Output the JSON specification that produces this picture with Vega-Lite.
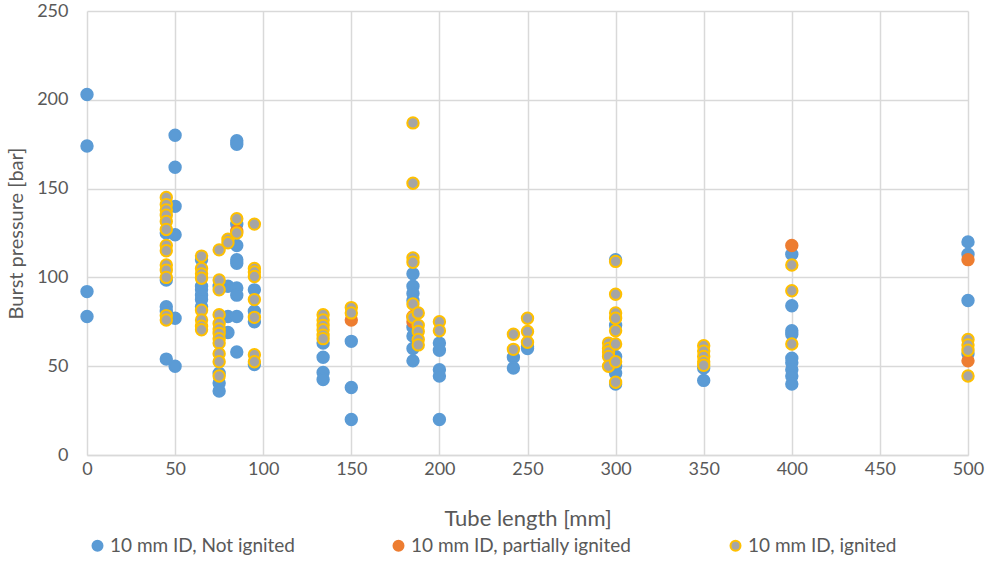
{
  "$schema": "https://vega.github.io/schema/vega-lite/v6.json",
  "width": 881,
  "height": 444,
  "autosize": {"type": "none"},
  "padding": {"left": 87, "top": 11, "right": 17, "bottom": 106},
  "background": "white",
  "config": {
    "font": "Lato",
    "view": {"stroke": null},
    "axis": {"labelFont": "Lato", "titleFont": "Lato", "labelColor": "#595959", "titleColor": "#595959", "gridColor": "#D9D9D9", "domainColor": "#D9D9D9", "gridWidth": 1.5, "domainWidth": 1.5, "ticks": false, "labelFontSize": 18, "titleFontSize": 19, "titleFontWeight": "normal", "labelFlush": false, "labelOverlap": false}
  },
  "data": {"values": [
    {"x": 0, "y": 203, "s": "10 mm ID, Not ignited"},
    {"x": 0, "y": 174, "s": "10 mm ID, Not ignited"},
    {"x": 0, "y": 92, "s": "10 mm ID, Not ignited"},
    {"x": 0, "y": 78, "s": "10 mm ID, Not ignited"},
    {"x": 45, "y": 98.5, "s": "10 mm ID, Not ignited"},
    {"x": 45, "y": 83.5, "s": "10 mm ID, Not ignited"},
    {"x": 45, "y": 81, "s": "10 mm ID, Not ignited"},
    {"x": 45, "y": 54, "s": "10 mm ID, Not ignited"},
    {"x": 45, "y": 125, "s": "10 mm ID, Not ignited"},
    {"x": 50, "y": 180, "s": "10 mm ID, Not ignited"},
    {"x": 50, "y": 162, "s": "10 mm ID, Not ignited"},
    {"x": 50, "y": 140, "s": "10 mm ID, Not ignited"},
    {"x": 50, "y": 124, "s": "10 mm ID, Not ignited"},
    {"x": 50, "y": 77, "s": "10 mm ID, Not ignited"},
    {"x": 50, "y": 50, "s": "10 mm ID, Not ignited"},
    {"x": 65, "y": 110, "s": "10 mm ID, Not ignited"},
    {"x": 65, "y": 95, "s": "10 mm ID, Not ignited"},
    {"x": 65, "y": 93, "s": "10 mm ID, Not ignited"},
    {"x": 65, "y": 90, "s": "10 mm ID, Not ignited"},
    {"x": 65, "y": 87.5, "s": "10 mm ID, Not ignited"},
    {"x": 65, "y": 83.5, "s": "10 mm ID, Not ignited"},
    {"x": 75, "y": 95, "s": "10 mm ID, Not ignited"},
    {"x": 75, "y": 46, "s": "10 mm ID, Not ignited"},
    {"x": 75, "y": 40.5, "s": "10 mm ID, Not ignited"},
    {"x": 75, "y": 36, "s": "10 mm ID, Not ignited"},
    {"x": 80, "y": 95, "s": "10 mm ID, Not ignited"},
    {"x": 80, "y": 78, "s": "10 mm ID, Not ignited"},
    {"x": 80, "y": 69, "s": "10 mm ID, Not ignited"},
    {"x": 85, "y": 177, "s": "10 mm ID, Not ignited"},
    {"x": 85, "y": 175, "s": "10 mm ID, Not ignited"},
    {"x": 85, "y": 130, "s": "10 mm ID, Not ignited"},
    {"x": 85, "y": 118, "s": "10 mm ID, Not ignited"},
    {"x": 85, "y": 110, "s": "10 mm ID, Not ignited"},
    {"x": 85, "y": 108, "s": "10 mm ID, Not ignited"},
    {"x": 85, "y": 94, "s": "10 mm ID, Not ignited"},
    {"x": 85, "y": 90, "s": "10 mm ID, Not ignited"},
    {"x": 85, "y": 78, "s": "10 mm ID, Not ignited"},
    {"x": 85, "y": 58, "s": "10 mm ID, Not ignited"},
    {"x": 95, "y": 93, "s": "10 mm ID, Not ignited"},
    {"x": 95, "y": 81, "s": "10 mm ID, Not ignited"},
    {"x": 95, "y": 75, "s": "10 mm ID, Not ignited"},
    {"x": 95, "y": 51, "s": "10 mm ID, Not ignited"},
    {"x": 134, "y": 63, "s": "10 mm ID, Not ignited"},
    {"x": 134, "y": 55, "s": "10 mm ID, Not ignited"},
    {"x": 134, "y": 46.5, "s": "10 mm ID, Not ignited"},
    {"x": 134, "y": 42.5, "s": "10 mm ID, Not ignited"},
    {"x": 150, "y": 64, "s": "10 mm ID, Not ignited"},
    {"x": 150, "y": 38, "s": "10 mm ID, Not ignited"},
    {"x": 150, "y": 20, "s": "10 mm ID, Not ignited"},
    {"x": 185, "y": 102, "s": "10 mm ID, Not ignited"},
    {"x": 185, "y": 95, "s": "10 mm ID, Not ignited"},
    {"x": 185, "y": 91, "s": "10 mm ID, Not ignited"},
    {"x": 185, "y": 87, "s": "10 mm ID, Not ignited"},
    {"x": 185, "y": 72, "s": "10 mm ID, Not ignited"},
    {"x": 185, "y": 67, "s": "10 mm ID, Not ignited"},
    {"x": 185, "y": 60, "s": "10 mm ID, Not ignited"},
    {"x": 185, "y": 53, "s": "10 mm ID, Not ignited"},
    {"x": 200, "y": 63, "s": "10 mm ID, Not ignited"},
    {"x": 200, "y": 59, "s": "10 mm ID, Not ignited"},
    {"x": 200, "y": 48, "s": "10 mm ID, Not ignited"},
    {"x": 200, "y": 44.5, "s": "10 mm ID, Not ignited"},
    {"x": 200, "y": 20, "s": "10 mm ID, Not ignited"},
    {"x": 242, "y": 55, "s": "10 mm ID, Not ignited"},
    {"x": 242, "y": 49, "s": "10 mm ID, Not ignited"},
    {"x": 250, "y": 61, "s": "10 mm ID, Not ignited"},
    {"x": 250, "y": 60, "s": "10 mm ID, Not ignited"},
    {"x": 300, "y": 110, "s": "10 mm ID, Not ignited"},
    {"x": 300, "y": 73, "s": "10 mm ID, Not ignited"},
    {"x": 300, "y": 55.5, "s": "10 mm ID, Not ignited"},
    {"x": 300, "y": 50, "s": "10 mm ID, Not ignited"},
    {"x": 300, "y": 46, "s": "10 mm ID, Not ignited"},
    {"x": 300, "y": 40, "s": "10 mm ID, Not ignited"},
    {"x": 350, "y": 49, "s": "10 mm ID, Not ignited"},
    {"x": 350, "y": 42, "s": "10 mm ID, Not ignited"},
    {"x": 400, "y": 113, "s": "10 mm ID, Not ignited"},
    {"x": 400, "y": 84, "s": "10 mm ID, Not ignited"},
    {"x": 400, "y": 70, "s": "10 mm ID, Not ignited"},
    {"x": 400, "y": 68, "s": "10 mm ID, Not ignited"},
    {"x": 400, "y": 54.5, "s": "10 mm ID, Not ignited"},
    {"x": 400, "y": 52, "s": "10 mm ID, Not ignited"},
    {"x": 400, "y": 48, "s": "10 mm ID, Not ignited"},
    {"x": 400, "y": 44.5, "s": "10 mm ID, Not ignited"},
    {"x": 400, "y": 40, "s": "10 mm ID, Not ignited"},
    {"x": 500, "y": 120, "s": "10 mm ID, Not ignited"},
    {"x": 500, "y": 113, "s": "10 mm ID, Not ignited"},
    {"x": 500, "y": 87, "s": "10 mm ID, Not ignited"},
    {"x": 500, "y": 57, "s": "10 mm ID, Not ignited"},
    {"x": 85, "y": 126, "s": "10 mm ID, partially ignited"},
    {"x": 150, "y": 76, "s": "10 mm ID, partially ignited"},
    {"x": 185, "y": 78, "s": "10 mm ID, partially ignited"},
    {"x": 185, "y": 75, "s": "10 mm ID, partially ignited"},
    {"x": 400, "y": 118, "s": "10 mm ID, partially ignited"},
    {"x": 500, "y": 110, "s": "10 mm ID, partially ignited"},
    {"x": 500, "y": 53, "s": "10 mm ID, partially ignited"},
    {"x": 45, "y": 145, "s": "10 mm ID, ignited"},
    {"x": 45, "y": 141, "s": "10 mm ID, ignited"},
    {"x": 45, "y": 138, "s": "10 mm ID, ignited"},
    {"x": 45, "y": 135, "s": "10 mm ID, ignited"},
    {"x": 45, "y": 131.5, "s": "10 mm ID, ignited"},
    {"x": 45, "y": 127, "s": "10 mm ID, ignited"},
    {"x": 45, "y": 118, "s": "10 mm ID, ignited"},
    {"x": 45, "y": 115, "s": "10 mm ID, ignited"},
    {"x": 45, "y": 107, "s": "10 mm ID, ignited"},
    {"x": 45, "y": 104, "s": "10 mm ID, ignited"},
    {"x": 45, "y": 100, "s": "10 mm ID, ignited"},
    {"x": 45, "y": 78.5, "s": "10 mm ID, ignited"},
    {"x": 45, "y": 76, "s": "10 mm ID, ignited"},
    {"x": 65, "y": 112, "s": "10 mm ID, ignited"},
    {"x": 65, "y": 105, "s": "10 mm ID, ignited"},
    {"x": 65, "y": 102, "s": "10 mm ID, ignited"},
    {"x": 65, "y": 99.5, "s": "10 mm ID, ignited"},
    {"x": 65, "y": 81.5, "s": "10 mm ID, ignited"},
    {"x": 65, "y": 76, "s": "10 mm ID, ignited"},
    {"x": 65, "y": 72.5, "s": "10 mm ID, ignited"},
    {"x": 65, "y": 70.5, "s": "10 mm ID, ignited"},
    {"x": 75, "y": 115.5, "s": "10 mm ID, ignited"},
    {"x": 75, "y": 98.5, "s": "10 mm ID, ignited"},
    {"x": 75, "y": 93, "s": "10 mm ID, ignited"},
    {"x": 75, "y": 79, "s": "10 mm ID, ignited"},
    {"x": 75, "y": 74, "s": "10 mm ID, ignited"},
    {"x": 75, "y": 71, "s": "10 mm ID, ignited"},
    {"x": 75, "y": 68.5, "s": "10 mm ID, ignited"},
    {"x": 75, "y": 65.5, "s": "10 mm ID, ignited"},
    {"x": 75, "y": 63, "s": "10 mm ID, ignited"},
    {"x": 75, "y": 57, "s": "10 mm ID, ignited"},
    {"x": 75, "y": 52.5, "s": "10 mm ID, ignited"},
    {"x": 75, "y": 44.5, "s": "10 mm ID, ignited"},
    {"x": 80, "y": 121.5, "s": "10 mm ID, ignited"},
    {"x": 80, "y": 119.5, "s": "10 mm ID, ignited"},
    {"x": 85, "y": 133, "s": "10 mm ID, ignited"},
    {"x": 85, "y": 125, "s": "10 mm ID, ignited"},
    {"x": 95, "y": 130, "s": "10 mm ID, ignited"},
    {"x": 95, "y": 105, "s": "10 mm ID, ignited"},
    {"x": 95, "y": 103, "s": "10 mm ID, ignited"},
    {"x": 95, "y": 100.5, "s": "10 mm ID, ignited"},
    {"x": 95, "y": 87.5, "s": "10 mm ID, ignited"},
    {"x": 95, "y": 77.5, "s": "10 mm ID, ignited"},
    {"x": 95, "y": 56.5, "s": "10 mm ID, ignited"},
    {"x": 95, "y": 52.5, "s": "10 mm ID, ignited"},
    {"x": 134, "y": 79, "s": "10 mm ID, ignited"},
    {"x": 134, "y": 76, "s": "10 mm ID, ignited"},
    {"x": 134, "y": 73, "s": "10 mm ID, ignited"},
    {"x": 134, "y": 70.5, "s": "10 mm ID, ignited"},
    {"x": 134, "y": 67.5, "s": "10 mm ID, ignited"},
    {"x": 134, "y": 65.5, "s": "10 mm ID, ignited"},
    {"x": 150, "y": 83, "s": "10 mm ID, ignited"},
    {"x": 150, "y": 80, "s": "10 mm ID, ignited"},
    {"x": 185, "y": 187, "s": "10 mm ID, ignited"},
    {"x": 185, "y": 153, "s": "10 mm ID, ignited"},
    {"x": 185, "y": 111, "s": "10 mm ID, ignited"},
    {"x": 185, "y": 108.5, "s": "10 mm ID, ignited"},
    {"x": 185, "y": 85, "s": "10 mm ID, ignited"},
    {"x": 185, "y": 77.5, "s": "10 mm ID, ignited"},
    {"x": 188, "y": 80, "s": "10 mm ID, ignited"},
    {"x": 188, "y": 73, "s": "10 mm ID, ignited"},
    {"x": 188, "y": 69.5, "s": "10 mm ID, ignited"},
    {"x": 188, "y": 65, "s": "10 mm ID, ignited"},
    {"x": 188, "y": 62, "s": "10 mm ID, ignited"},
    {"x": 200, "y": 75, "s": "10 mm ID, ignited"},
    {"x": 200, "y": 70, "s": "10 mm ID, ignited"},
    {"x": 242, "y": 68, "s": "10 mm ID, ignited"},
    {"x": 242, "y": 59.5, "s": "10 mm ID, ignited"},
    {"x": 250, "y": 77, "s": "10 mm ID, ignited"},
    {"x": 250, "y": 69.5, "s": "10 mm ID, ignited"},
    {"x": 250, "y": 63.5, "s": "10 mm ID, ignited"},
    {"x": 296, "y": 63, "s": "10 mm ID, ignited"},
    {"x": 296, "y": 60, "s": "10 mm ID, ignited"},
    {"x": 296, "y": 58, "s": "10 mm ID, ignited"},
    {"x": 296, "y": 55.5, "s": "10 mm ID, ignited"},
    {"x": 296, "y": 50, "s": "10 mm ID, ignited"},
    {"x": 300, "y": 109, "s": "10 mm ID, ignited"},
    {"x": 300, "y": 90.5, "s": "10 mm ID, ignited"},
    {"x": 300, "y": 80, "s": "10 mm ID, ignited"},
    {"x": 300, "y": 77, "s": "10 mm ID, ignited"},
    {"x": 300, "y": 70, "s": "10 mm ID, ignited"},
    {"x": 300, "y": 62.5, "s": "10 mm ID, ignited"},
    {"x": 300, "y": 52.5, "s": "10 mm ID, ignited"},
    {"x": 300, "y": 41, "s": "10 mm ID, ignited"},
    {"x": 350, "y": 61.5, "s": "10 mm ID, ignited"},
    {"x": 350, "y": 58.5, "s": "10 mm ID, ignited"},
    {"x": 350, "y": 55.5, "s": "10 mm ID, ignited"},
    {"x": 350, "y": 52.5, "s": "10 mm ID, ignited"},
    {"x": 350, "y": 50.5, "s": "10 mm ID, ignited"},
    {"x": 400, "y": 107, "s": "10 mm ID, ignited"},
    {"x": 400, "y": 92.5, "s": "10 mm ID, ignited"},
    {"x": 400, "y": 62.5, "s": "10 mm ID, ignited"},
    {"x": 500, "y": 65, "s": "10 mm ID, ignited"},
    {"x": 500, "y": 62, "s": "10 mm ID, ignited"},
    {"x": 500, "y": 59, "s": "10 mm ID, ignited"},
    {"x": 500, "y": 44.5, "s": "10 mm ID, ignited"}
  ]},
  "mark": {"type": "point", "filled": true, "shape": "circle", "size": 130, "strokeWidth": 2, "opacity": 1},
  "encoding": {
    "x": {"field": "x", "type": "quantitative", "title": "Tube length [mm]",
      "scale": {"domain": [0, 500], "nice": false, "zero": true},
      "axis": {"values": [0, 50, 100, 150, 200, 250, 300, 350, 400, 450, 500], "labelPadding": 5, "titlePadding": 30, "titleFontSize": 22}},
    "y": {"field": "y", "type": "quantitative", "title": "Burst pressure [bar]",
      "scale": {"domain": [0, 250], "nice": false},
      "axis": {"values": [0, 50, 100, 150, 200, 250], "labelPadding": 19, "titlePadding": 10, "titleFontSize": 20, "domain": false}},
    "fill": {"field": "s", "type": "nominal", "title": null,
      "scale": {"domain": ["10 mm ID, Not ignited", "10 mm ID, partially ignited", "10 mm ID, ignited"], "range": ["#5B9BD5", "#ED7D31", "#A5A5A5"]},
      "legend": {"orient": "none", "legendX": 1, "legendY": 525, "direction": "horizontal", "columns": 3, "columnPadding": 94, "symbolType": "circle", "symbolSize": 100, "symbolStrokeWidth": 2, "labelFontSize": 19, "labelLimit": 400, "labelFont": "Lato", "labelColor": "#595959", "labelOffset": 3}},
    "stroke": {"field": "s", "type": "nominal", "title": null,
      "scale": {"domain": ["10 mm ID, Not ignited", "10 mm ID, partially ignited", "10 mm ID, ignited"], "range": ["#5B9BD5", "#ED7D31", "#FFC000"]},
      "legend": {"orient": "none", "legendX": 1, "legendY": 525, "direction": "horizontal", "columns": 3, "columnPadding": 94, "symbolType": "circle", "symbolSize": 100, "symbolStrokeWidth": 2, "labelFontSize": 19, "labelLimit": 400, "labelFont": "Lato", "labelColor": "#595959", "labelOffset": 3}}
  }
}
